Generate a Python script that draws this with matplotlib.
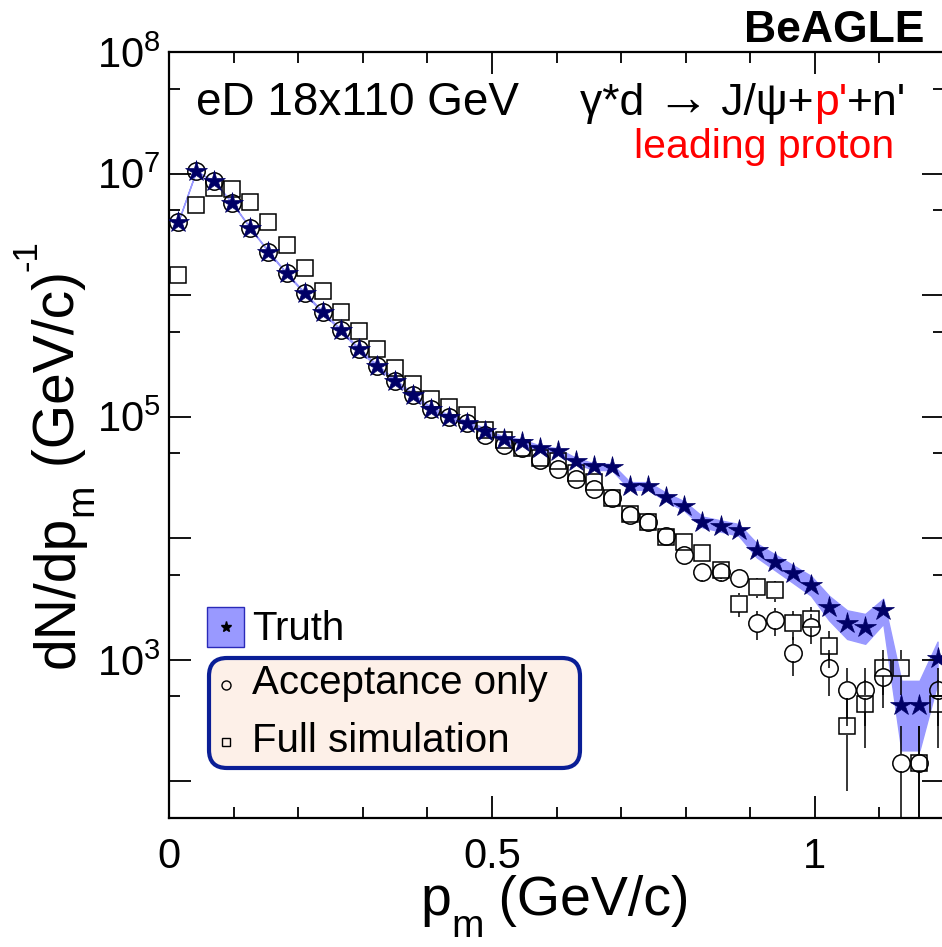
# -*- coding: utf-8 -*-
"""
BeAGLE eD 18x110 GeV: leading proton missing momentum p_m
- Truth (band + stars), acceptance only (circles), full simulation (squares)
"""

import numpy as np
import matplotlib
matplotlib.use('Agg')
import matplotlib.pyplot as plt
from matplotlib.patches import FancyBboxPatch, Rectangle
from matplotlib.collections import LineCollection
from matplotlib.transforms import IdentityTransform
from matplotlib.ticker import FixedLocator, FixedFormatter, NullFormatter

plt.rcParams['font.family'] = ['Liberation Sans', 'DejaVu Sans']
plt.rcParams['mathtext.fontset'] = 'custom'
plt.rcParams['mathtext.rm'] = 'Liberation Sans'
plt.rcParams['mathtext.it'] = 'Liberation Sans:italic'
plt.rcParams['mathtext.bf'] = 'Liberation Sans:bold'

W, H = 942, 947

# ============================================================
# 1. data (bin centres, 0.028 GeV/c bins)
# ============================================================
pm = [0.014, 0.042, 0.070, 0.098, 0.126, 0.154, 0.182, 0.210, 0.238, 0.266,
      0.294, 0.322, 0.350, 0.378, 0.406, 0.434, 0.462, 0.490, 0.518, 0.546,
      0.574, 0.602, 0.630, 0.658, 0.686, 0.714, 0.742, 0.770, 0.798, 0.826,
      0.854, 0.882, 0.910, 0.938, 0.966, 0.994, 1.022, 1.050, 1.078, 1.106,
      1.134, 1.162, 1.190]

truth = [3.98e6, 1.05e7, 8.61e6, 5.70e6, 3.55e6, 2.28e6, 1.51e6, 1.04e6, 7.23e5, 5.17e5,
         3.59e5, 2.62e5, 1.98e5, 1.51e5, 1.15e5, 1.00e5, 8.84e4, 7.69e4, 6.53e4, 6.24e4,
         5.51e4, 5.23e4, 4.33e4, 3.90e4, 3.85e4, 2.70e4, 2.70e4, 2.19e4, 1.85e4, 1.37e4,
         1.27e4, 1.18e4, 8.03e3, 6.43e3, 5.16e3, 4.14e3, 2.74e3, 2.02e3, 1.87e3, 2.58e3,
         426, 426, 1030]
truth_err = [23800, 38600, 35000, 28500, 22500, 18000, 14600, 12100, 10100, 8570,
             7140, 6100, 5300, 4630, 4050, 3770, 3540, 3300, 3050, 2980,
             2800, 2730, 2480, 2350, 2340, 1960, 1960, 1760, 1620, 1400,
             1340, 1300, 1070, 955, 856, 767, 624, 535, 515, 605,
             246, 246, 382]

acc = [3.98e6, 1.05e7, 8.61e6, 5.70e6, 3.55e6, 2.28e6, 1.51e6, 1.04e6, 7.23e5, 5.17e5,
       3.59e5, 2.62e5, 1.98e5, 1.51e5, 1.15e5, 1.00e5, 8.84e4, 7.09e4, 5.86e4, 5.51e4,
       4.41e4, 3.72e4, 3.08e4, 2.55e4, 2.14e4, 1.56e4, 1.36e4, 1.04e4, 7.30e3, 5.32e3,
       5.29e3, 4.70e3, 2.00e3, 2.13e3, 1.14e3, 1.87e3, 854, 567, 567, 721,
       143, 143, 567]
acc_err = [23800, 38600, 35000, 28500, 22500, 18000, 14600, 12100, 10100, 8570,
           7140, 6100, 5300, 4630, 4050, 3770, 3540, 3170, 2885, 2800,
           2500, 2300, 2090, 1900, 1745, 1490, 1390, 1210, 1020, 870,
           865, 817, 533, 550, 402, 515, 348, 284, 284, 320,
           143, 143, 284]

full = [1.47e6, 5.52e6, 7.57e6, 7.50e6, 5.81e6, 4.00e6, 2.60e6, 1.67e6, 1.08e6, 7.32e5,
        5.08e5, 3.59e5, 2.53e5, 1.86e5, 1.39e5, 1.20e5, 1.04e5, 7.79e4, 6.45e4, 5.51e4,
        4.56e4, 4.29e4, 3.43e4, 2.93e4, 2.14e4, 1.57e4, 1.37e4, 1.03e4, 9.40e3, 7.54e3,
        5.50e3, 2.89e3, 3.95e3, 3.73e3, 2.00e3, 2.15e3, 1.29e3, 283, 435, 864,
        864, 143, 435]
full_err = [14400, 28000, 32800, 32600, 28700, 23800, 19200, 15400, 12400, 10200,
            8490, 7140, 5990, 5140, 4450, 4120, 3830, 3330, 3030, 2800,
            2545, 2470, 2210, 2040, 1745, 1490, 1395, 1210, 1155, 1035,
            884, 641, 749, 728, 533, 553, 427, 200, 248, 350,
            350, 143, 248]

x_ticks = [0, 0.5, 1.0]
x_ticklabels = ['0', '0.5', '1']
x_minor = [0.1, 0.2, 0.3, 0.4, 0.6, 0.7, 0.8, 0.9, 1.1]
y_ticks = [1e2, 1e3, 1e4, 1e5, 1e6, 1e7, 1e8]
y_ticklabels = ['', r'$10^{3}$', '', r'$10^{5}$', '', r'$10^{7}$', r'$10^{8}$']
y_minor = [5e2, 5e3, 5e4, 5e5, 5e6, 5e7]

BAND = '#9999ff'
NAVY = '#000066'

# ============================================================
# 2. main frame
# ============================================================
fig = plt.figure(figsize=(W / 100, H / 100), dpi=100)
ax = fig.add_axes([169 / W, 1 - 818 / H, (944 - 169) / W, (818 - 52) / H])
ax.set_yscale('log')
ax.set_xlim(0, 1.2)
ax.set_ylim(50, 1e8)

x = np.array(pm)
t, te = np.array(truth), np.array(truth_err)
a, ae = np.array(acc), np.array(acc_err)
f, fe = np.array(full), np.array(full_err)

ax.fill_between(x, t - te, t + te, facecolor=BAND, edgecolor=BAND, lw=1.0, zorder=1)


def err_segments(xv, yv, ev, half):
    # vertical error bars drawn outside the marker, in pixels
    p = ax.transData.transform(np.column_stack([xv, yv]))
    hi = ax.transData.transform(np.column_stack([xv, yv + ev]))
    lo = ax.transData.transform(np.column_stack([xv, np.clip(yv - ev, 1.0, None)]))
    segs = []
    for pp, hh, ll in zip(p, hi, lo):
        if hh[1] - pp[1] > half:
            segs.append([(pp[0], pp[1] + half), (pp[0], hh[1])])
        if pp[1] - ll[1] > half:
            segs.append([(pp[0], pp[1] - half), (pp[0], ll[1])])
    lc = LineCollection(segs, colors='black', linewidths=1.1,
                        transform=IdentityTransform(), zorder=2)
    lc.set_clip_path(ax.patch)
    ax.add_collection(lc, autolim=False)


err_segments(x, a, ae, 8.5)
err_segments(x, f, fe, 8.5)

ax.plot(x, f, ls='none', marker='s', ms=12, mfc='none', mec='black', mew=1.1, zorder=3)
ax.plot(x, a, ls='none', marker='o', ms=12.5, mfc='none', mec='black', mew=1.1, zorder=3)
ax.plot(x, t, ls='none', marker='*', ms=16, color=NAVY, mec=NAVY, mew=0.5, zorder=4)

ax.xaxis.set_major_locator(FixedLocator(x_ticks))
ax.xaxis.set_major_formatter(FixedFormatter(x_ticklabels))
ax.xaxis.set_minor_locator(FixedLocator(x_minor))
ax.yaxis.set_major_locator(FixedLocator(y_ticks))
ax.yaxis.set_major_formatter(FixedFormatter(y_ticklabels))
ax.yaxis.set_minor_locator(FixedLocator(y_minor))
ax.yaxis.set_minor_formatter(NullFormatter())

ax.tick_params(which='both', direction='in', top=True, right=True, width=1.3, colors='black')
ax.tick_params(which='major', length=16, labelsize=30)
ax.tick_params(which='minor', length=8)
ax.tick_params(axis='x', which='major', pad=14)
ax.tick_params(axis='y', which='major', pad=6)
for sp in ax.spines.values():
    sp.set_linewidth(1.6)

# ============================================================
# 3. overlay in pixel coordinates for texts and legend
# ============================================================
ov = fig.add_axes([0, 0, 1, 1])
ov.set_xlim(0, W)
ov.set_ylim(H, 0)
ov.axis('off')
renderer = fig.canvas.get_renderer()


def runs(x0, y0, pieces, rotation=0):
    # pieces: (text, size, colour, shift) with shift = baseline offset in px (up +)
    pos = x0 if rotation == 0 else y0
    for s, size, col, shift in pieces:
        if rotation == 0:
            tx = ov.text(pos, y0 - shift, s, fontsize=size, color=col,
                         ha='left', va='baseline')
            pos += tx.get_window_extent(renderer).width
        else:
            tx = ov.text(x0 - shift, pos, s, fontsize=size, color=col, rotation=90,
                         rotation_mode='anchor', ha='left', va='baseline')
            pos -= tx.get_window_extent(renderer).height


ov.text(924, 42, 'BeAGLE', fontsize=32, fontweight='bold', ha='right', va='baseline')
ov.text(196, 115, 'eD 18x110 GeV', fontsize=33, ha='left', va='baseline')
runs(580, 115, [('\u03b3*d ', 32, 'black', 0), ('\u2192', 38, 'black', 0),
                (' J/\u03c8+', 32, 'black', 0),
                ("p'", 32, 'red', 0),
                ("+n'", 32, 'black', 0)])
ov.text(634, 158, 'leading proton', fontsize=29.5, color='red', ha='left', va='baseline')

# axis titles
runs(420, 915, [('p', 40, 'black', 0), ('m', 28, 'black', -22),
                (' (GeV/c)', 40, 'black', 0)])
runs(74, 668, [('dN/dp', 41, 'black', 0), ('m', 28, 'black', -18),
               (' (GeV/c)', 41, 'black', 0), ('-1', 25, 'black', 38)], rotation=90)

# ============================================================
# 4. legend
# ============================================================
ov.add_patch(Rectangle((207, 607), 37, 40, facecolor=BAND, edgecolor='#2a2ab8', lw=1.0))
ov.plot([226], [627], marker='*', ms=8, color='black', ls='none')
ov.text(252, 640, 'Truth', fontsize=29, ha='left', va='baseline')

box = FancyBboxPatch((209, 658), 371, 110, boxstyle='round,pad=0,rounding_size=18',
                     facecolor='#fdf0e8', edgecolor='#0a1e96', lw=3.0)
ov.add_patch(box)
ov.plot([226], [685], marker='o', ms=6.5, mfc='none', mec='black', mew=1.0, ls='none')
ov.text(252, 694, 'Acceptance only', fontsize=29, ha='left', va='baseline')
ov.plot([226], [742], marker='s', ms=6.0, mfc='none', mec='black', mew=1.0, ls='none')
ov.text(252, 752, 'Full simulation', fontsize=29, ha='left', va='baseline')

fig.savefig('out.png', dpi=100)
print('saved out.png')
